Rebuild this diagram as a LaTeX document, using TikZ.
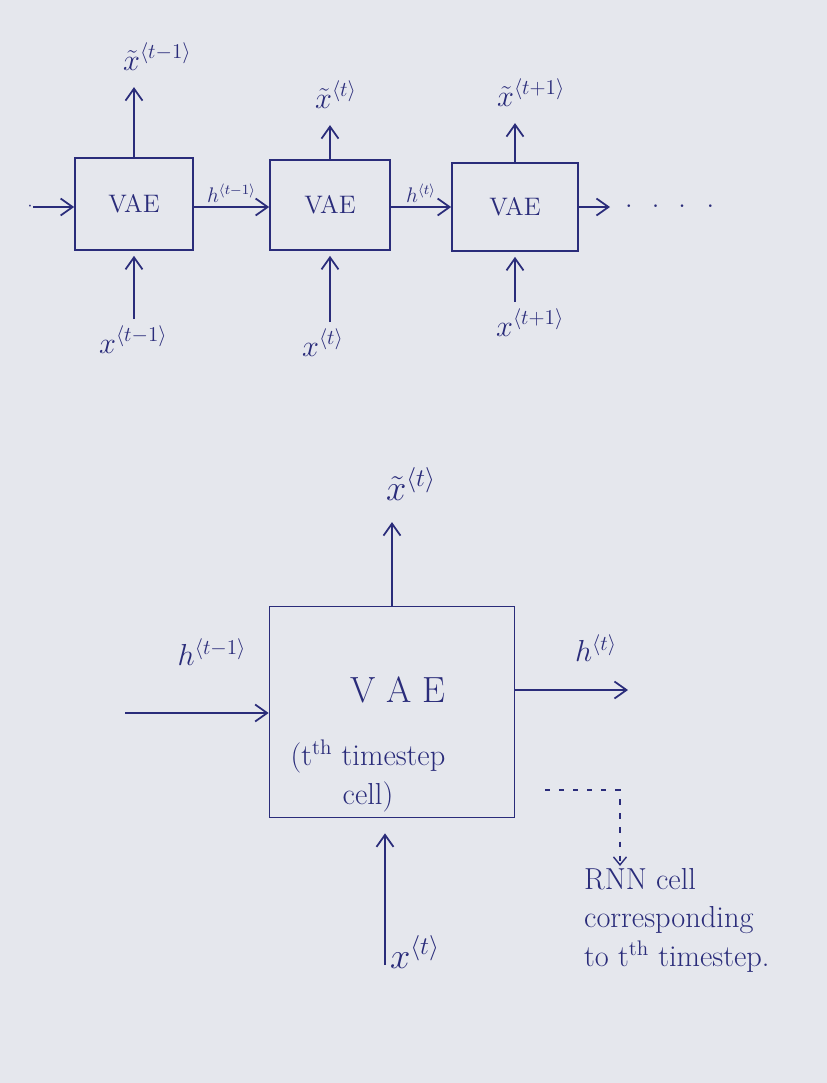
\documentclass[tikz,border=0pt]{standalone}
\usepackage{amsmath,amssymb}
\usepackage{xcolor}
\usepackage{tikz}
\usetikzlibrary{arrows.meta,positioning}

\definecolor{ink}{RGB}{42,44,122}
\definecolor{paper}{RGB}{229,231,237}

\begin{document}
\begin{tikzpicture}[
    x=0.02cm, y=-0.02cm,
    every node/.style={text=ink},
    vae/.style={draw=ink, line width=1pt, align=center, inner sep=0pt},
    lbl/.style={font=\LARGE, inner sep=1pt},
    hlbl/.style={font=\large, inner sep=2pt},
    flow/.style={-{Straight Barb[length=2.4mm, width=3.4mm]}, draw=ink, line width=1pt},
    pointer/.style={-{Straight Barb[length=1.6mm, width=2.6mm]}, draw=ink, line width=0.8pt, dash pattern=on 3pt off 5pt}
]
\fill[paper] (0,0) rectangle (827,1083);
\useasboundingbox (0,0) rectangle (827,1083);

% unrolled chain
\node[vae, font=\Large, minimum width=2.36cm, minimum height=1.84cm] (vae1) at (134,204) {VAE};
\node[vae, font=\Large, minimum width=2.4cm, minimum height=1.8cm] (vae2) at (330,205) {VAE};
\node[vae, font=\Large, minimum width=2.52cm, minimum height=1.76cm] (vae3) at (515,207) {VAE};

\node[inner sep=0pt] (lead) at (30,207) {$\cdot$};
\coordinate (tail) at (610,207);
\node[anchor=west, font=\Large, inner sep=0pt] (dots) at (625,207) {$\cdot\;\;\cdot\;\;\cdot\;\;\;\cdot$};

\draw[flow] (lead) -- (lead -| vae1.west);
\draw[flow] (vae1.east |- lead) -- node[above, hlbl] {$h^{\langle t-1\rangle}$} (vae2.west |- lead);
\draw[flow] (vae2.east |- lead) -- node[above, hlbl] {$h^{\langle t\rangle}$} (vae3.west |- lead);
\draw[flow] (vae3.east |- tail) -- (tail);

% outputs
\node[lbl, anchor=base west] (yhat1) at (121,70) {$\tilde{x}^{\langle t-1\rangle}$};
\node[lbl, anchor=base west] (yhat2) at (313,108) {$\tilde{x}^{\langle t\rangle}$};
\node[lbl, anchor=base west] (yhat3) at (495,106) {$\tilde{x}^{\langle t+1\rangle}$};
\draw[flow, shorten >=3mm] (vae1) -- (vae1.north |- yhat1.south);
\draw[flow, shorten >=3mm] (vae2) -- (vae2.north |- yhat2.south);
\draw[flow, shorten >=3mm] (vae3) -- (vae3.north |- yhat3.south);

% inputs
\node[lbl, anchor=base west] (x1) at (97,353) {$x^{\langle t-1\rangle}$};
\node[lbl, anchor=base west] (x2) at (300,356) {$x^{\langle t\rangle}$};
\node[lbl, anchor=base west] (x3) at (494,336) {$x^{\langle t+1\rangle}$};
\draw[flow, shorten >=1mm, shorten <=1mm] (vae1.south |- x1.north) -- (vae1);
\draw[flow, shorten >=1mm, shorten <=1mm] (vae2.south |- x2.north) -- (vae2);
\draw[flow, shorten >=1mm, shorten <=1mm] (vae3.south |- x3.north) -- (vae3);

% single cell
\node[vae, minimum width=4.9cm, minimum height=4.22cm] (cell) at (392,712) {};
\node[font=\huge] (celltitle) at (398,690) {V A E};
\node[font=\LARGE, align=center] (cellsub) at (368,776) {(t\textsuperscript{th} timestep\\cell)};

\node[lbl, font=\huge, anchor=base west] (yhat) at (384,500) {$\tilde{x}^{\langle t\rangle}$};
\draw[flow, shorten >=4mm] (cell) -- (cell.north |- yhat.south);

\coordinate (hin) at (125,713);
\coordinate (hout) at (628,690);
\draw[flow] (hin) -- (hin -| cell.west);
\draw[flow] (cell.east |- hout) -- (hout);
\node[lbl] (hprev) at (212,652) {$h^{\langle t-1\rangle}$};
\node[lbl] (hnext) at (596,648) {$h^{\langle t\rangle}$};

\node[lbl, font=\huge, anchor=base west] (xin) at (388,968) {$x^{\langle t\rangle}$};
\coordinate (xsrc) at (385,965);
\draw[flow, shorten >=3mm] (xsrc) -- (cell.south -| xsrc);

% note on the cell
\node[font=\LARGE, align=left, anchor=north west] (rnn) at (578,862) {RNN cell\\corresponding\\to t\textsuperscript{th} timestep.};
\coordinate (dstart) at (545,790);
\coordinate (dend) at (620,866);
\draw[pointer] (dstart) -| (dend);
\end{tikzpicture}
\end{document}
